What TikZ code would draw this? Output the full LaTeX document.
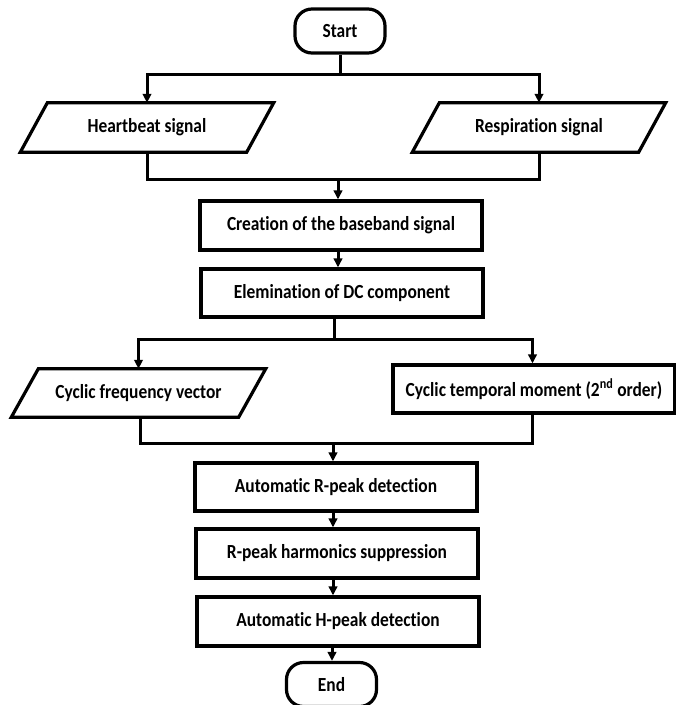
\documentclass[tikz,border=0pt]{standalone}
\usepackage{fontspec}
\newfontfamily\flowfont{Carlito}[FakeStretch=0.87, Ligatures={NoCommon,NoContextual}]
\usetikzlibrary{arrows.meta}
\begin{document}
\begin{tikzpicture}[x=1pt,y=-1pt,
  every node/.style={font=\flowfont\fontsize{20}{23}\selectfont\bfseries, inner sep=0pt},
  procbox/.style={draw, line width=3.2pt, minimum width=282pt, minimum height=48pt},
  termbox/.style={draw, line width=3.2pt, rounded corners=17pt, minimum width=90pt, minimum height=44pt},
  iobox/.style={minimum height=49pt},
  slantline/.style={line width=3.2pt, line join=miter},
  conn/.style={line width=3pt},
  arr/.style={conn, -{Triangle[length=9pt,width=8.5pt]}}
]
\useasboundingbox (0,0) rectangle (676,705);
% terminals
\node[termbox] (start) at (340,31) {Start};
\node[termbox] (end) at (331.5,684.5) {End};
% input parallelograms (text nodes, outline drawn from their anchors)
\node[iobox, minimum width=226pt] (hb) at (147,127.5) {Heartbeat signal};
\node[iobox, minimum width=226pt] (resp) at (539,127.5) {Respiration signal};
\node[iobox, minimum width=227pt, minimum height=48pt] (cf) at (138.5,393) {Cyclic frequency vector};
\foreach \n in {hb,resp,cf}{
  \draw[slantline] ([xshift=13.5pt]\n.north west) -- ([xshift=13.5pt]\n.north east)
    -- ([xshift=-13.5pt]\n.south east) -- ([xshift=-13.5pt]\n.south west) -- cycle;
}
% process boxes
\node[procbox, minimum height=49pt] (cre) at (341,225.5) {Creation of the baseband signal};
\node[procbox] (elim) at (342,293) {Elemination of DC component};
\node[procbox, minimum height=48pt] (tm) at (534,389) {Cyclic temporal moment (2\textsuperscript{nd} order)};
\node[procbox] (autoR) at (336,487) {Automatic R-peak detection};
\node[procbox, minimum height=49pt] (harm) at (337,553.5) {R-peak harmonics suppression};
\node[procbox, minimum height=49pt] (hpk) at (338,621.5) {Automatic H-peak detection};
% junction coordinates
\coordinate (b1) at (340,74);
\coordinate (m1) at (338,179);
\coordinate (b2) at (334,339);
\coordinate (m2) at (333,443);
% connectors
\draw[conn] (start.south) -- (b1);
\draw[arr] (b1) -| (hb.north);
\draw[arr] (b1) -| (resp.north);
\draw[conn] (hb.south) |- (m1);
\draw[conn] (resp.south) |- (m1);
\draw[arr] (m1) -- (m1 |- cre.north);
\draw[arr] (m1 |- cre.south) -- (m1 |- elim.north);
\draw[conn] (b2 |- elim.south) -- (b2);
\draw[arr] (b2) -| (cf.north);
\draw[arr] (b2) -| ([xshift=-1.5pt]tm.north);
\draw[conn] ([xshift=1.5pt]cf.south) |- (m2);
\draw[conn] ([xshift=-1.5pt]tm.south) |- (m2);
\draw[arr] (m2) -- (m2 |- autoR.north);
\draw[arr] (m2 |- autoR.south) -- (m2 |- harm.north);
\draw[arr] (m2 |- harm.south) -- (m2 |- hpk.north);
\draw[arr] ([xshift=-1pt]m2 |- hpk.south) -- ([xshift=-1pt]m2 |- end.north);
\end{tikzpicture}
\end{document}
